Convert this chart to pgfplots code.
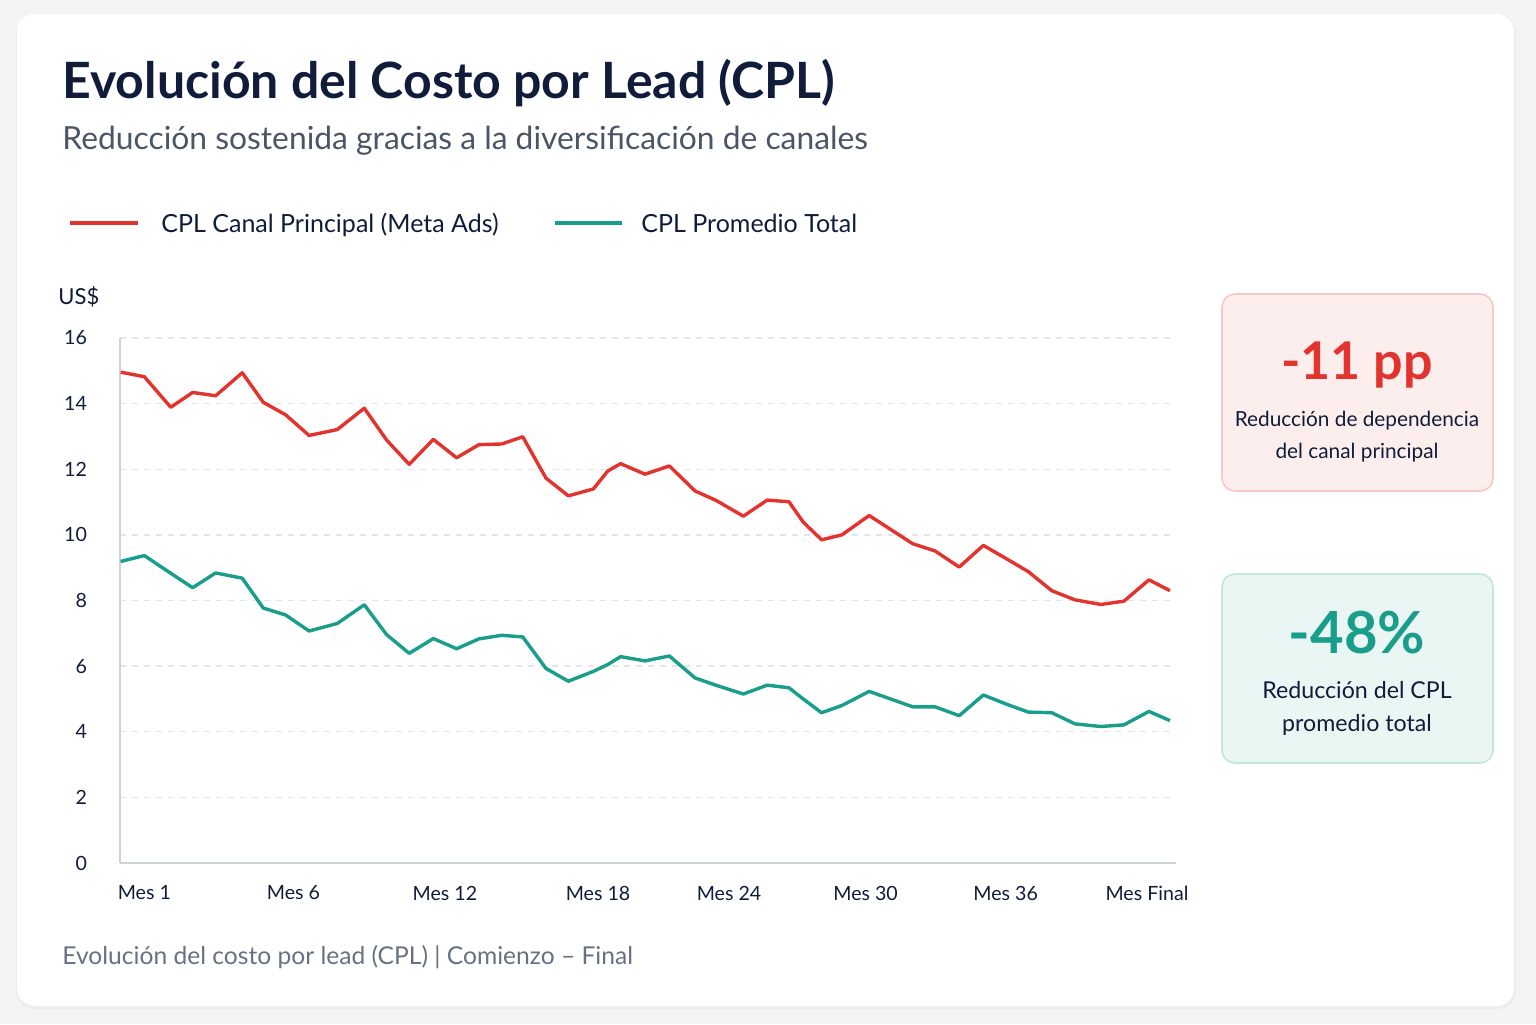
\documentclass[border=0pt]{standalone}
\usepackage{fontspec}
\setmainfont{Lato}
\usepackage{pgfplots}
\usepackage{pgfplotstable}
\pgfplotsset{compat=1.18}

\definecolor{navy}{HTML}{111C3A}
\definecolor{subgrey}{HTML}{4B5565}
\definecolor{footgrey}{HTML}{687083}
\definecolor{cplred}{HTML}{E3332F}
\definecolor{cplteal}{HTML}{189E8B}
\definecolor{gridgrey}{HTML}{E2E5EA}
\definecolor{axisgrey}{HTML}{CDD2DA}
\definecolor{redbg}{HTML}{FDEEEE}
\definecolor{rededge}{HTML}{F6C8C8}
\definecolor{tealbg}{HTML}{EAF6F3}
\definecolor{tealedge}{HTML}{C2E5DC}
\definecolor{outerbg}{HTML}{F3F4F6}

% CPL per month (US$): main channel and overall average
\pgfplotstableread{
mes    principal  promedio
1.00   14.96      9.19
2.06   14.82      9.37
3.24   13.89      8.83
4.22   14.34      8.39
5.25   14.24      8.84
6.44   14.94      8.68
7.38   14.04      7.77
8.38   13.66      7.56
9.43   13.03      7.07
10.69  13.21      7.30
11.90  13.86      7.87
12.90  12.89      6.96
13.91  12.15      6.39
14.99  12.91      6.84
16.03  12.35      6.53
17.03  12.75      6.83
18.05  12.77      6.94
18.99  12.99      6.89
20.03  11.73      5.93
21.03  11.19      5.54
22.15  11.40      5.84
22.80  11.95      6.05
23.37  12.17      6.29
24.46  11.85      6.16
25.55  12.10      6.31
26.70  11.34      5.64
27.67  11.04      5.41
28.86  10.57      5.15
29.93  11.06      5.42
30.90  11.01      5.34
31.54  10.39      5.00
32.36   9.85      4.58
33.27  10.00      4.80
34.49  10.59      5.23
36.44   9.73      4.76
37.44   9.51      4.76
38.52   9.02      4.49
39.60   9.68      5.12
40.64   9.27      4.84
41.61   8.88      4.60
42.66   8.30      4.58
43.70   8.02      4.24
44.86   7.88      4.16
45.89   7.98      4.21
47.01   8.63      4.62
47.95   8.30      4.34
}\cpldata

\begin{document}
\begin{tikzpicture}[x=0.5pt,y=-0.5pt]
% page and card
\fill[outerbg] (0,0) rectangle (1536,1024);
\fill[black!7, rounded corners=9pt] (16,16) rectangle (1516,1009);
\fill[white, rounded corners=9pt] (17,14) rectangle (1514,1006);

% title and subtitle
\node[anchor=base west, inner sep=0, text=navy, font=\bfseries\fontsize{25}{29}\selectfont] at (62,98) {Evolución del Costo por Lead (CPL)};
\node[anchor=base west, inner sep=0, text=subgrey, font=\fontsize{15.9}{19}\selectfont] at (62,149) {Reducción sostenida gracias a la diversificación de canales};

% legend
\draw[cplred, line width=2pt] (70,223) -- (138,223);
\node[anchor=base west, inner sep=0, text=navy, font=\fontsize{12.5}{15}\selectfont] at (161,232) {CPL Canal Principal (Meta Ads)};
\draw[cplteal, line width=2pt] (555,223) -- (622,223);
\node[anchor=base west, inner sep=0, text=navy, font=\fontsize{12.5}{15}\selectfont] at (641,232) {CPL Promedio Total};

% unit label
\node[anchor=base west, inner sep=0, text=navy, font=\fontsize{11}{13}\selectfont] at (58,304) {US\$};

\begin{axis}[
  at={(60pt,-431.5pt)}, anchor=south west,
  scale only axis, width=528pt, height=262.5pt,
  xmin=0.97, xmax=48.22, ymin=0, ymax=16,
  axis lines*=left,
  axis line style={draw=axisgrey, line width=0.8pt},
  ytick={0,2,...,16},
  xtick={2.06,8.73,15.51,22.36,28.22,34.33,40.60,46.92},
  xticklabels={Mes 1,Mes 6,Mes 12,Mes 18,Mes 24,Mes 30,Mes 36,Mes Final},
  major tick length=0pt,
  ymajorgrids,
  grid style={gridgrey, dash pattern=on 3pt off 3pt, line width=0.7pt},
  tick label style={font=\fontsize{9.8}{11}\selectfont, text=navy},
  /pgf/number format/assume math mode=true,
  yticklabel style={anchor=east, xshift=-13pt},
  xticklabel style={anchor=center, yshift=-15pt},
]
\addplot[cplred, line width=1.7pt, line join=round] table[x=mes, y=principal]{\cpldata};
\addplot[cplteal, line width=1.7pt, line join=round] table[x=mes, y=promedio]{\cpldata};
\end{axis}

% summary cards
\draw[rededge, fill=redbg, line width=0.8pt, rounded corners=6.5pt] (1222,294) rectangle (1493,491);
\node[anchor=base, inner sep=0, text=cplred, font=\bfseries\fontsize{26}{30}\selectfont] at (1357,379) {-11 pp};
\node[anchor=base, inner sep=0, text=navy, font=\fontsize{10.4}{12}\selectfont] at (1357,426) {Reducción de dependencia};
\node[anchor=base, inner sep=0, text=navy, font=\fontsize{10.4}{12}\selectfont] at (1357,458) {del canal principal};

\draw[tealedge, fill=tealbg, line width=0.8pt, rounded corners=6.5pt] (1222,574) rectangle (1493,763);
\node[anchor=base, inner sep=0, text=cplteal, font=\bfseries\fontsize{29}{33}\selectfont] at (1357,653) {-48\%};
\node[anchor=base, inner sep=0, text=navy, font=\fontsize{11.6}{14}\selectfont] at (1357,698) {Reducción del CPL};
\node[anchor=base, inner sep=0, text=navy, font=\fontsize{11.6}{14}\selectfont] at (1357,731) {promedio total};

% source note
\node[anchor=base west, inner sep=0, text=footgrey, font=\fontsize{12.3}{15}\selectfont] at (62,964) {Evolución del costo por lead (CPL) | Comienzo – Final};
\end{tikzpicture}
\end{document}
